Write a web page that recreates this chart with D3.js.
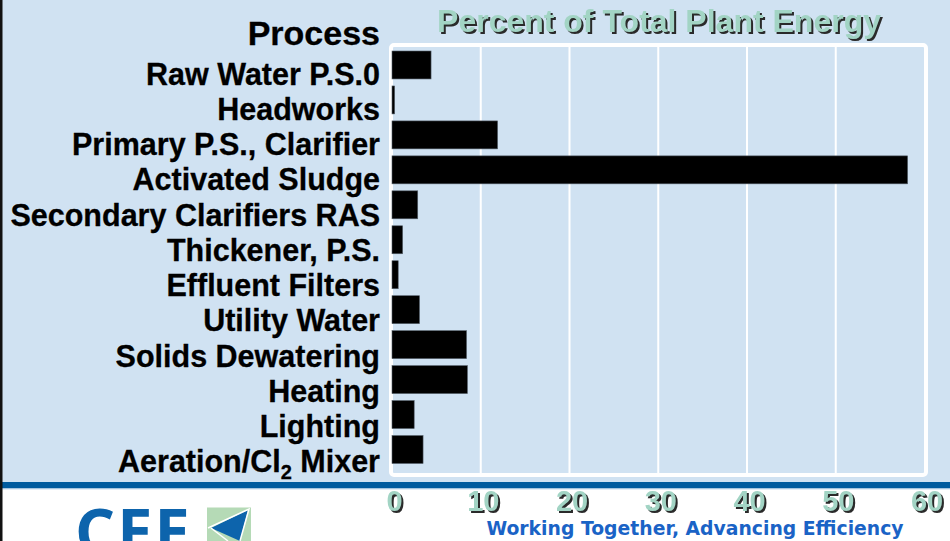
<!DOCTYPE html>
<html>
<head>
<meta charset="utf-8">
<script src="https://cdn.jsdelivr.net/npm/d3@7"></script>
<style>
  html, body { margin: 0; padding: 0; background: #ffffff; }
  svg { display: block; }
  .lbl { font-family: "Liberation Sans", Arial, sans-serif; font-weight: bold; }
</style>
</head>
<body>
<svg id="chart" width="950" height="541"></svg>
<script>
// ---- data ----
const categories = [
  "Raw Water P.S.0",
  "Headworks",
  "Primary P.S., Clarifier",
  "Activated Sludge",
  "Secondary Clarifiers RAS",
  "Thickener, P.S.",
  "Effluent Filters",
  "Utility Water",
  "Solids Dewatering",
  "Heating",
  "Lighting",
  "Aeration/Cl_2 Mixer"
];
const values = [4.4, 0.3, 11.9, 58.1, 2.9, 1.2, 0.7, 3.1, 8.4, 8.5, 2.5, 3.5];
const xTicks = [0, 10, 20, 30, 40, 50, 60];
const titleText = "Percent of Total Plant Energy";
const headerText = "Process";
const taglineText = "Working Together, Advancing Efficiency";
const logoText = "CEE";

const svg = d3.select("#chart");
const W = 950, H = 541;

// background
svg.append("rect").attr("x", 0).attr("y", 0).attr("width", W).attr("height", 482).attr("fill", "#d0e2f2");
svg.append("rect").attr("x", 0).attr("y", 482).attr("width", W).attr("height", 6.5).attr("fill", "#005b9e");
svg.append("rect").attr("x", 0).attr("y", 488.5).attr("width", W).attr("height", 1).attr("fill", "#c9dced");
svg.append("rect").attr("x", 0).attr("y", 0).attr("width", 2.5).attr("height", H).attr("fill", "#111");

// scales
const x = d3.scaleLinear().domain([0, 60]).range([392, 924.5]);
const y = d3.scaleBand().domain(categories).range([47.5, 467]).paddingInner(0.2).paddingOuter(0.1);
const yLab = d3.scaleBand().domain(categories).range([56.5, 479.5]);

// frame
svg.append("rect").attr("x", 391).attr("y", 45).attr("width", 535).attr("height", 430)
  .attr("rx", 3).attr("fill", "none").attr("stroke", "#ffffff").attr("stroke-width", 4);

// gridlines
svg.append("g").selectAll("line").data(xTicks.filter(t => t > 0 && t < 60)).join("line")
  .attr("x1", d => x(d)).attr("x2", d => x(d)).attr("y1", 47).attr("y2", 473)
  .attr("stroke", "#ffffff").attr("stroke-width", 2);

// bars
svg.append("g").selectAll("rect").data(categories).join("rect")
  .attr("x", x(0))
  .attr("y", d => y(d))
  .attr("width", (d, i) => Math.max(0, x(values[i]) - x(0)))
  .attr("height", y.bandwidth())
  .attr("fill", "#000")
  .attr("stroke", "#55606b").attr("stroke-width", 0.6);

// category labels
const labG = svg.append("g").attr("class", "lbl");
categories.forEach(c => {
  const t = labG.append("text")
    .attr("x", 380)
    .attr("y", yLab(c) + yLab.bandwidth() / 2 + 10.5)
    .attr("text-anchor", "end")
    .attr("font-size", 30.5)
    .attr("fill", "#000")
    .attr("stroke", "#000").attr("stroke-width", 0.3);
  const parts = c.split(/_(\d)/);
  parts.forEach((p, k) => {
    if (k % 2 === 1) {
      t.append("tspan").attr("font-size", 20).attr("dy", 7).text(p);
    } else if (p.length) {
      const ts = t.append("tspan").text(p);
      if (k > 0) ts.attr("dy", -7);
    }
  });
});

// header
svg.append("text").attr("class", "lbl")
  .attr("x", 380).attr("y", 45).attr("text-anchor", "end")
  .attr("font-size", 34).attr("fill", "#000")
  .attr("stroke", "#000").attr("stroke-width", 0.3).text(headerText);

// title
svg.append("text").attr("class", "lbl")
  .attr("x", 659).attr("y", 32).attr("text-anchor", "middle")
  .attr("font-size", 32).attr("fill", "#a2d4c4")
  .style("filter", "drop-shadow(2px 2px 0px #2a2a2a)")
  .text(titleText);

// x axis (tick labels below the band)
const axis = d3.axisBottom(x).tickValues(xTicks).tickSize(0).tickPadding(0).tickFormat(d3.format("d"));
const ax = svg.append("g").attr("transform", "translate(2,0)").call(axis);
ax.select(".domain").remove();
ax.selectAll("text")
  .attr("y", 511).attr("dy", null)
  .attr("font-family", "Liberation Sans, Arial, sans-serif")
  .attr("font-weight", "bold")
  .attr("font-size", 29)
  .attr("fill", "#a2d4c4")
  .style("filter", "drop-shadow(2px 2px 0px #2a2a2a)");

// tagline
svg.append("text")
  .attr("x", 695).attr("y", 535).attr("text-anchor", "middle")
  .attr("font-family", "DejaVu Sans, Verdana, sans-serif")
  .attr("font-weight", "bold").attr("font-size", 18.8)
  .attr("fill", "#1a63c6").text(taglineText);

// logo
svg.append("text")
  .attr("x", 75).attr("y", 554)
  .attr("font-family", "Open Sans, DejaVu Sans, sans-serif")
  .attr("font-weight", "bold").attr("font-size", 63)
  .attr("letter-spacing", 2)
  .attr("fill", "#0d64ac").text(logoText);
const lg = svg.append("g");
lg.append("rect").attr("x", 207).attr("y", 507.5).attr("width", 44).attr("height", 40).attr("fill", "#b5dab6");
lg.append("polygon").attr("points", "211,528 248,510 240,541 ").attr("fill", "#0d64ac");
lg.append("polyline").attr("points", "208,528 249,509 240,541").attr("fill", "none").attr("stroke", "#fff").attr("stroke-width", 1.5);
lg.append("line").attr("x1", 211).attr("y1", 528).attr("x2", 228).attr("y2", 541).attr("stroke", "#fff").attr("stroke-width", 1.5);
</script>
</body>
</html>
